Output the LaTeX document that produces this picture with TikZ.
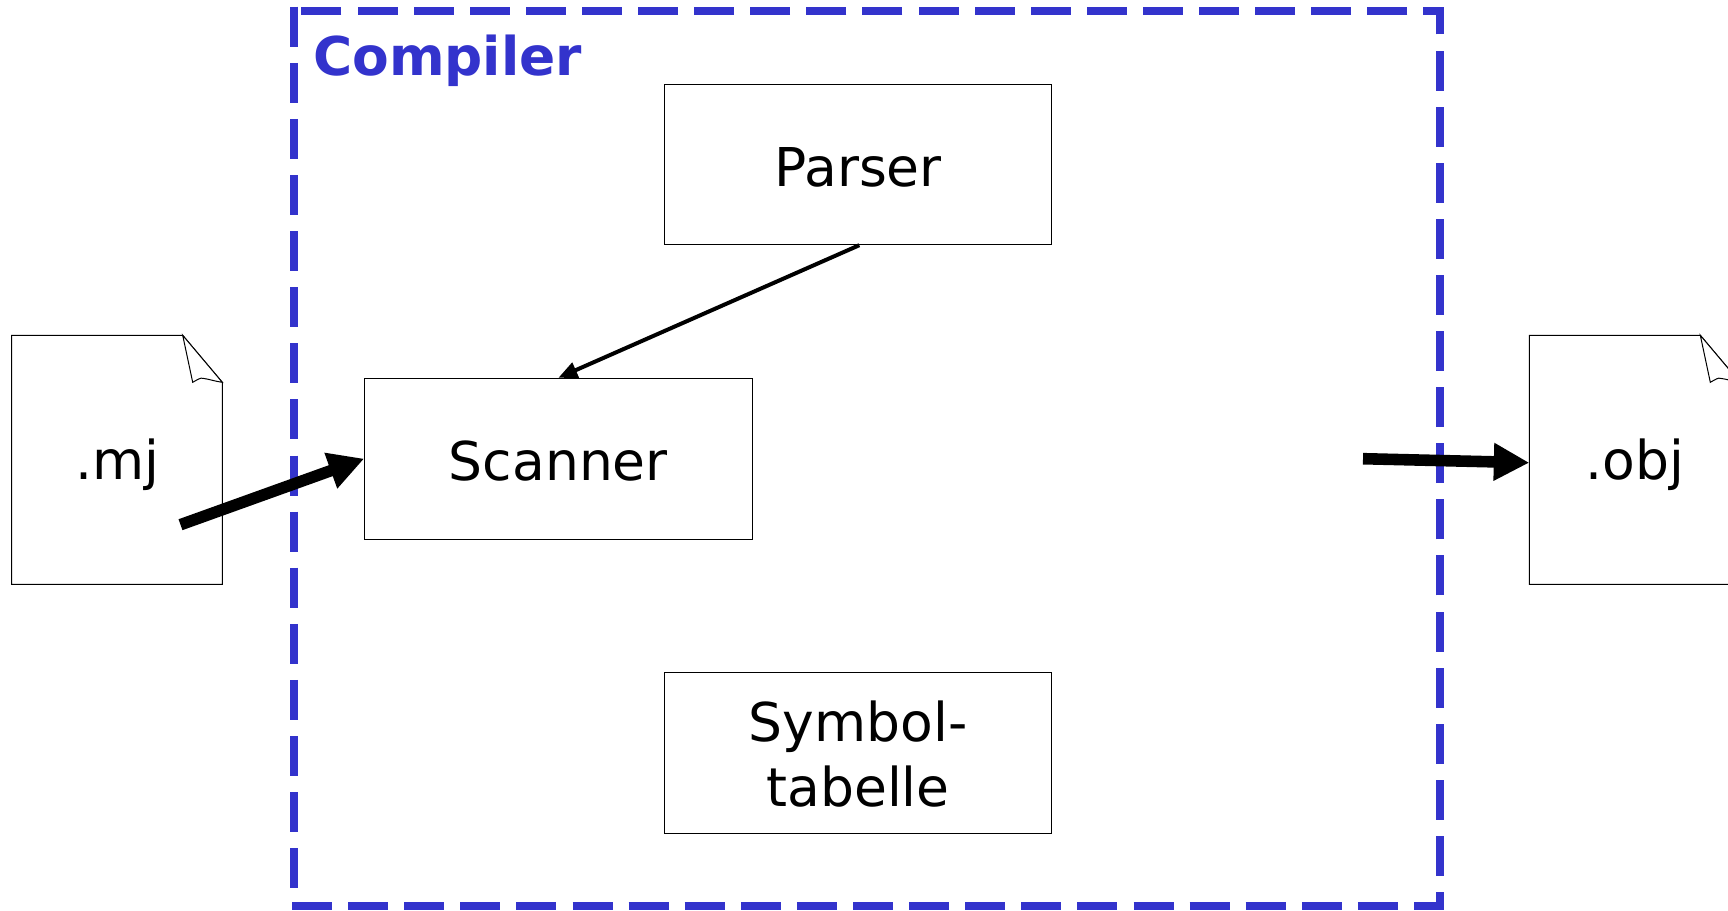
\documentclass[tikz,border=0pt]{standalone}
\usepackage{fontspec}
\setmainfont{DejaVu Sans}
\usetikzlibrary{arrows.meta}
\definecolor{frameblue}{HTML}{3333CC}
\tikzset{
  framedash/.style={draw=frameblue,line width=8pt,dash pattern=on 40pt off 16.1pt,line join=miter},
  boxnode/.style={draw=black,line width=1pt,fill=white,inner sep=0pt,align=center,text height=44pt,text depth=0pt,font=\fontsize{53.5}{65}\selectfont},
  docline/.style={draw=black,line width=1pt,fill=white,line join=miter},
  foldline/.style={draw=black,line width=1pt,fill=white},
  doctext/.style={anchor=base,inner sep=0pt,font=\fontsize{53.5}{65}\selectfont},
  thickarrow/.style={line width=11.6pt,-{Triangle[length=35.5pt,width=35.5pt]}},
  thinarrow/.style={line width=4pt,-{Triangle[length=19pt,width=16pt]}},
}
\newcommand{\docsheet}[1]{%
  \path[docline] (#1,335.3) -- ++(171,0) -- ++(39.6,47) -- ++(0,202) -- ++(-210.6,0) -- cycle;
  \path[foldline] (#1+171,335.3) -- ++(10,47) .. controls (#1+186,379.5) and (#1+189,377.5) .. (#1+191,378.3) .. controls (#1+197,379) and (#1+204,381.5) .. (#1+210.6,382.3) -- cycle;
}
\begin{document}
\begin{tikzpicture}[x=1pt,y=-1pt]
\useasboundingbox (0,0) rectangle (1728,910);
% compiler frame
\draw[framedash] (292,906.3) -- (1439.7,906.3) -- (1439.7,10.7) -- (297.7,10.7);
\draw[framedash] (294,6.7) -- (294,892);
\node[anchor=base west,inner sep=0pt,text=frameblue,font=\fontsize{53.4}{64}\selectfont\bfseries] (compiler) at (313,75) {Compiler};
% documents
\docsheet{11.7}
\docsheet{1529.3}
\node[doctext] (mj) at (117,479.3) {.mj};
\node[doctext] (obj) at (1634.6,479.3) {.obj};
\coordinate (mjout) at (180.5,524.7);
\coordinate (objin) at (1529.3,462.7);
\coordinate (objfrom) at (1363,458.7);
% boxes
\node[boxnode,minimum width=386.8pt,minimum height=160.7pt] (parser) at (858.1,164.35) {Parser};
\node[boxnode,minimum width=387.3pt,minimum height=160.7pt] (scanner) at (558.35,458.65) {Scanner};
\node[boxnode,minimum width=386.8pt,minimum height=161pt,text height=107pt] (symbol) at (858.1,752.5) {Symbol-\\tabelle};
% connectors
\draw[thinarrow] ([xshift=1.2pt]parser.south) -- (scanner.north);
\draw[thickarrow] (mjout) -- (scanner.west);
\draw[thickarrow] (objfrom) -- (objin);
\end{tikzpicture}
\end{document}
